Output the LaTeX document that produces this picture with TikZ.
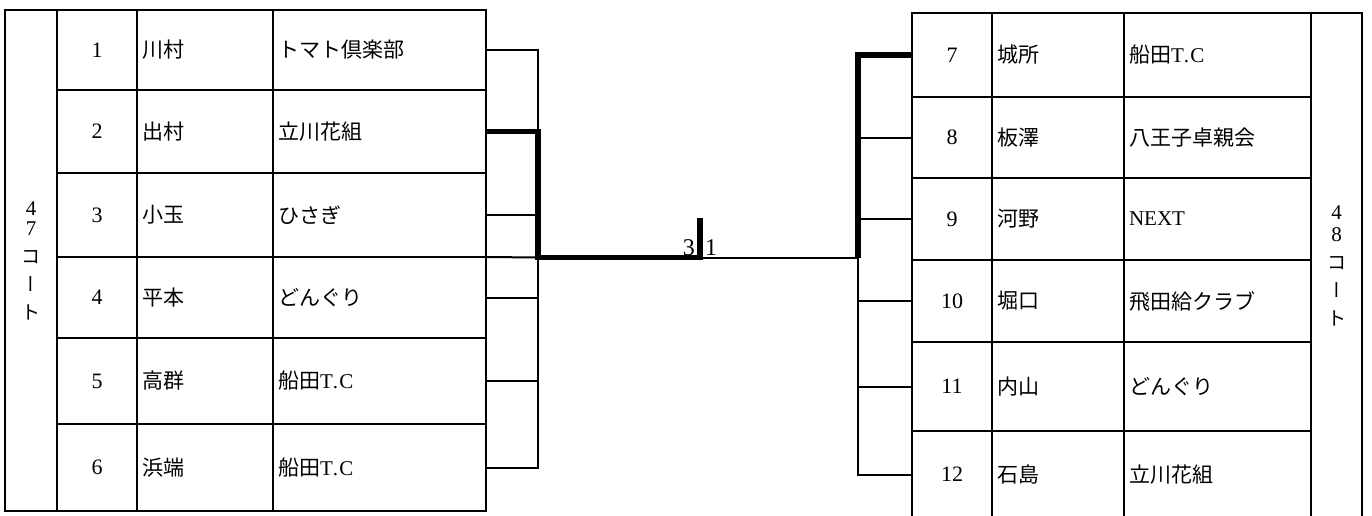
\documentclass[tikz,border=0pt]{standalone}
\usepackage{fontspec}
\setmainfont{Liberation Serif}
\newfontfamily\jp{Noto Sans CJK JP}
\newfontfamily\jpv[RawFeature=+vert]{Noto Sans CJK JP}
\newfontfamily\latsp[LetterSpace=7]{Liberation Serif}
\newcommand\TCtext{{\latsp T.C}}
\newcommand\courtkana[1]{{\jp\fontsize{19}{20}\selectfont #1}}
\newcommand\courtbar{{\jpv\fontsize{19}{20}\selectfont ー}}
\begin{document}
\begin{tikzpicture}[x=1pt,y=-1pt,
  cell/.style={draw, line width=2pt, inner sep=0pt, outer sep=0pt, anchor=north west},
  numcell/.style={cell, minimum width=80pt, font=\rmfamily\fontsize{22}{26}\selectfont},
  txtcell/.style={cell, inner xsep=5pt, inner ysep=0pt, align=left, text width=#1, font=\jp\fontsize{21}{25}\selectfont},
  courtcell/.style={cell, minimum width=#1, align=center, font=\rmfamily\fontsize{21}{28}\selectfont},
  conn/.style={line width=2pt},
  win/.style={line width=5.5pt, line join=miter},
  score/.style={inner sep=0pt, font=\rmfamily\fontsize{24}{28}\selectfont}
]
\useasboundingbox (0,0) rectangle (1372,516);
\fill[white] (0,0) rectangle (1372,516);

% left table
\node[courtcell=52pt, minimum height=501pt] (Lc) at (5,10)
  {4\\[-8pt]7\\\courtkana{コ}\\\courtbar\\\courtkana{ト}};
\foreach \i/\t/\h/\n/\p/\c in {
  1/10/80/1/川村/トマト倶楽部,
  2/90/83/2/出村/立川花組,
  3/173/84/3/小玉/ひさぎ,
  4/257/81/4/平本/どんぐり,
  5/338/86/5/高群/船田\TCtext,
  6/424/87/6/浜端/船田\TCtext}{
  \node[numcell, minimum height=\h pt] (Ln\i) at (57,\t) {\n};
  \node[txtcell=126pt, minimum height=\h pt] (Lp\i) at (137,\t) {\p};
  \node[txtcell=203pt, minimum height=\h pt] (Lt\i) at (273,\t) {\c};
}

% right table
\foreach \i/\t/\h/\p/\c in {
  7/13/84/城所/船田\TCtext,
  8/97/81/板澤/八王子卓親会,
  9/178/82/河野/{\rmfamily NEXT},
  10/260/82/堀口/飛田給クラブ,
  11/342/89/内山/どんぐり,
  12/431/87/石島/立川花組}{
  \node[numcell, minimum height=\h pt] (Rn\i) at (912,\t) {\i};
  \node[txtcell=122pt, minimum height=\h pt] (Rp\i) at (992,\t) {\p};
  \node[txtcell=177pt, minimum height=\h pt] (Rt\i) at (1124,\t) {\c};
}
\node[courtcell=51pt, minimum height=505pt] (Rc) at (1311,13)
  {4\\[-6pt]8\\\courtkana{コ}\\\courtbar\\\courtkana{ト}};

% bracket
\coordinate (LB) at (538,257.5);
\coordinate (M) at (700,257.5);
\coordinate (Mt) at (700,218);
\coordinate (RB) at (858,257.5);

\foreach \i in {1,3,4,5,6} \draw[conn] (Lt\i.east) -| (LB);
\draw[conn] (Lt3.south east) -- (LB);
\foreach \i in {8,9,10,11,12} \draw[conn] (Rn\i.west) -| (RB);
\draw[conn] (M) -- (RB);
\draw[win] (Lt2.east) -| (LB) -- (M) -- (Mt);
\draw[win] (Rn7.west) -| (RB);

\node[score, anchor=base east] (sL) at ([xshift=-5pt,yshift=2pt]M) {3};
\node[score, anchor=base west] (sR) at ([xshift=5pt,yshift=2pt]M) {1};
\end{tikzpicture}
\end{document}
